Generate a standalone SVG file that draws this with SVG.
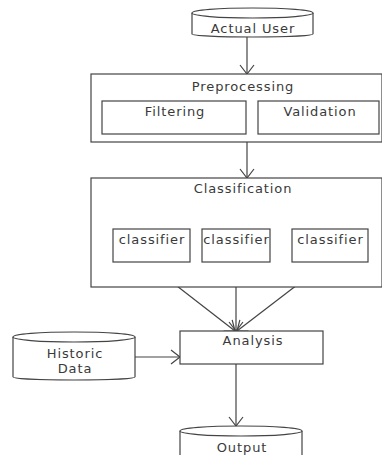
<svg xmlns="http://www.w3.org/2000/svg" width="382" height="455" viewBox="0 0 382 455">
  <style>
    .shape { fill: #fff; stroke: #444; stroke-width: 1.2; }
    .label { font-family: "DejaVu Sans", Verdana, sans-serif; font-size: 13px; letter-spacing: 0.9px; fill: #3a3a3a; text-anchor: middle; }
    .edge { fill: none; stroke: #444; stroke-width: 1.2; }
  </style>
  <defs>
    <marker id="open" markerUnits="userSpaceOnUse" markerWidth="20" markerHeight="20" refX="10" refY="10" orient="auto" overflow="visible">
      <path d="M1,3 L10,10 L1,17" fill="none" stroke="#444" stroke-width="1.2"/>
    </marker>
  </defs>
  <rect width="382" height="455" fill="#fff"/>

  <g id="connectors">
    <line class="edge" x1="247" y1="37" x2="247" y2="74" marker-end="url(#open)"/>
    <line class="edge" x1="247" y1="142" x2="247" y2="178" marker-end="url(#open)"/>
    <line class="edge" x1="146" y1="262" x2="235" y2="331" marker-end="url(#open)"/>
    <line class="edge" x1="236" y1="262" x2="236" y2="331" marker-end="url(#open)"/>
    <line class="edge" x1="327" y1="262" x2="237" y2="331" marker-end="url(#open)"/>
    <line class="edge" x1="135" y1="357" x2="180" y2="357" marker-end="url(#open)"/>
    <line class="edge" x1="236" y1="364" x2="236" y2="426" marker-end="url(#open)"/>
  </g>

  <g id="actual-user">
    <path class="shape" d="M192,13 L192,34 A60.5,3 0 0 0 313,34 L313,13"/>
    <ellipse class="shape" cx="252.5" cy="13" rx="60.5" ry="5"/>
    <text class="label" x="253" y="33">Actual User</text>
  </g>

  <g id="preprocessing">
    <rect class="shape" x="91" y="74" width="291" height="68"/>
    <text class="label" x="243" y="91">Preprocessing</text>
  </g>
  <g id="filtering">
    <rect class="shape" x="102" y="101" width="144" height="33"/>
    <text class="label" x="175" y="116">Filtering</text>
  </g>
  <g id="validation">
    <rect class="shape" x="258" y="101" width="121" height="33"/>
    <text class="label" x="320" y="116">Validation</text>
  </g>

  <g id="classification">
    <rect class="shape" x="91" y="178" width="291" height="109"/>
    <text class="label" x="243" y="193">Classification</text>
  </g>
  <g id="classifier-1">
    <rect class="shape" x="113" y="229" width="77" height="33"/>
    <text class="label" x="152" y="244">classifier</text>
  </g>
  <g id="classifier-2">
    <rect class="shape" x="202" y="229" width="68" height="33"/>
    <text class="label" x="236.5" y="244">classifier</text>
  </g>
  <g id="classifier-3">
    <rect class="shape" x="292" y="229" width="76" height="33"/>
    <text class="label" x="330.5" y="244">classifier</text>
  </g>

  <g id="analysis">
    <rect class="shape" x="180" y="331" width="143" height="33"/>
    <text class="label" x="253" y="345">Analysis</text>
  </g>

  <g id="historic-data">
    <path class="shape" d="M13,337 L13,377 A61,3 0 0 0 135,377 L135,337"/>
    <ellipse class="shape" cx="74" cy="337" rx="61" ry="5"/>
    <text class="label" x="75" y="358">Historic</text>
    <text class="label" x="75" y="373">Data</text>
  </g>

  <g id="output">
    <path class="shape" d="M180,431 L180,462 L302,462 L302,431"/>
    <ellipse class="shape" cx="241" cy="431" rx="61" ry="5"/>
    <text class="label" x="242" y="452">Output</text>
  </g>
</svg>
